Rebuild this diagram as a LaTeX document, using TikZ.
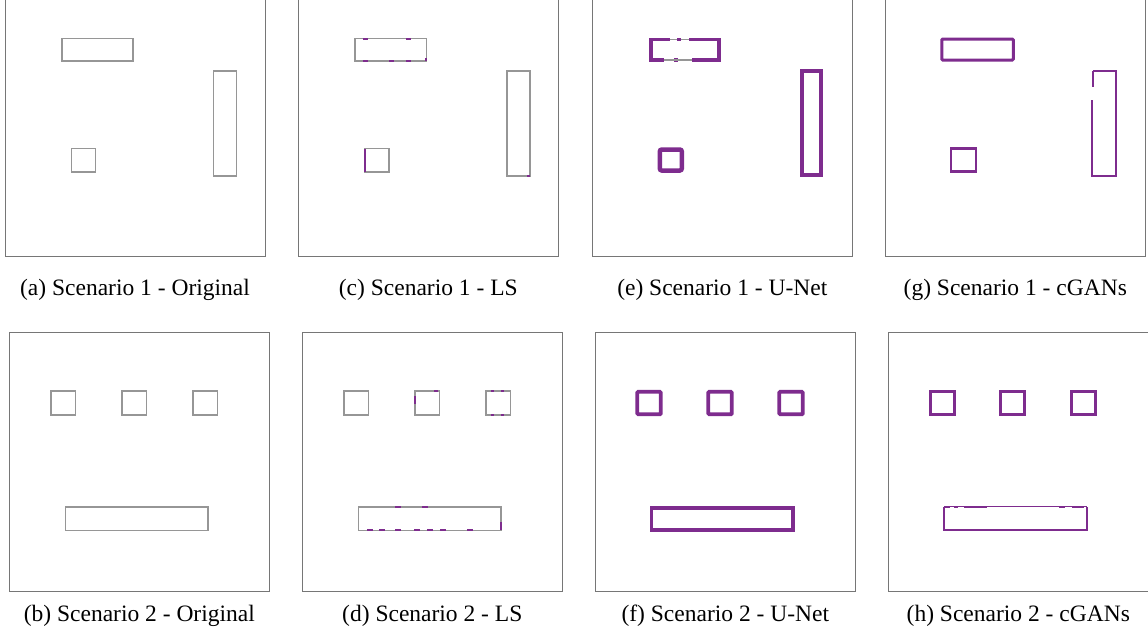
\documentclass[tikz,border=0pt]{standalone}
\usepackage{fontspec}
\setmainfont{Liberation Serif}
\usepackage{xcolor}
\definecolor{frm}{RGB}{118,118,118}
\definecolor{gry}{RGB}{150,150,150}
\definecolor{pur}{RGB}{126,44,142}
\usetikzlibrary{positioning}
% scenario shapes, relative to the panel's upper left corner
\newcommand{\SceneOne}[1]{%
  \draw[#1] (56.7,38.5) rectangle (128,61);
  \draw[#1] (208.5,71) rectangle (231.5,176);
  \draw[#1] (66.5,148.5) rectangle (90.5,172);}
\newcommand{\SceneTwo}[1]{%
  \foreach \sx in {41.5,112.5,183.5} \draw[#1] (\sx,58.5) rectangle ++(24.5,24);
  \draw[#1] (56,174.5) rectangle (198.5,198);}

\begin{document}
\begin{tikzpicture}[x=1pt, y=-1pt,
   every node/.style={font=\fontsize{23.5}{28}\selectfont},
   panel/.style={draw=frm, line width=1pt},
   orig/.style={draw=gry, line width=1.6pt},
   unet/.style={draw=pur, line width=3.8pt},
   gan/.style={draw=pur, line width=2.2pt},
   speck/.style={draw=pur, line width=2pt},
   gapline/.style={draw=gry, line width=1.4pt},
   subcap/.style={anchor=base}]
  \useasboundingbox (0,0) rectangle (1148,638);
  % row 1: scenario 1
  \begin{scope}[shift={(5,0)}]
    \draw[panel] (0,-3.5) rectangle (260,256.5);
    \SceneOne{orig}
    \node[subcap] (capA) at (130,295) {(a) Scenario 1 - Original};
  \end{scope}
  \begin{scope}[shift={(298.3,0)}]
    \draw[panel] (0,-3.5) rectangle (260,256.5);
    \SceneOne{orig}
    \foreach \px in {66.7,110} \draw[speck] (\px-2.5,38.5) -- (\px+2.5,38.5);
    \foreach \px in {66.7,93.4,110} \draw[speck] (\px-2.5,61) -- (\px+2.5,61);
    \draw[speck] (128,58) -- (128,61);
    \draw[speck] (66.5,148.5) -- (66.5,172);
    \draw[speck] (229,176) -- (231.5,176);
    \node[subcap] (capC) at (130,295) {(c) Scenario 1 - LS};
  \end{scope}
  \begin{scope}[shift={(592.3,0)}]
    \draw[panel] (0,-3.5) rectangle (260,256.5);
    \draw[unet] (58.5,39.5) rectangle (126.5,60);
    \draw[unet] (209.5,71) rectangle (229,175);
    \draw[unet, rounded corners=2pt, line width=4.5pt] (67.5,149.5) rectangle (89.5,170.5);
    \draw[white, line width=4.8pt] (78,39.5) -- (97,39.5) (72,60) -- (82,60) (86,60) -- (100,60);
    \draw[gapline] (78,39.5) -- (97,39.5) (72,60) -- (100,60);
    \draw[unet, line width=3pt] (85,39.5) -- (89,39.5);
    \node[subcap] (capE) at (130,295) {(e) Scenario 1 - U-Net};
  \end{scope}
  \begin{scope}[shift={(885.3,0)}]
    \draw[panel] (0,-3.5) rectangle (260,256.5);
    \draw[gan, line width=3pt, rounded corners=1pt] (56.5,39) rectangle (128,60);
    \draw[gan] (207.5,71) -- (230.5,71) -- (230.5,176) -- (206.5,176) -- (206.5,100);
    \draw[gan] (207.5,71) -- (207.5,87);
    \draw[gan] (66,148.5) rectangle (90.5,171.5);
    \node[subcap] (capG) at (130,295) {(g) Scenario 1 - cGANs};
  \end{scope}
  % row 2: scenario 2
  \begin{scope}[shift={(9.3,332.3)}]
    \draw[panel] (0,0) rectangle (260,259.3);
    \SceneTwo{orig}
    \node[subcap] (capB) at (130,289.4) {(b) Scenario 2 - Original};
  \end{scope}
  \begin{scope}[shift={(302.3,332.3)}]
    \draw[panel] (0,0) rectangle (260,259.3);
    \SceneTwo{orig}
    \draw[speck] (113,64) -- (113,72);
    \draw[speck] (132,58.5) -- (136,58.5);
    \foreach \px in {190,200} \draw[speck] (\px-1.5,58.5) -- (\px+1.5,58.5);
    \foreach \px in {190,200} \draw[speck] (\px-1.5,82.5) -- (\px+1.5,82.5);
    \foreach \px in {96,123} \draw[speck] (\px-3,174.5) -- (\px+3,174.5);
    \foreach \px in {68,80,96,115,128,141,168} \draw[speck] (\px-3,198) -- (\px+3,198);
    \draw[speck] (198.5,190) -- (198.5,198);
    \node[subcap] (capD) at (130,289.4) {(d) Scenario 2 - LS};
  \end{scope}
  \begin{scope}[shift={(595.3,332.3)}]
    \draw[panel] (0,0) rectangle (260,259.3);
    \foreach \sx in {42,113,184} \draw[unet, rounded corners=1pt] (\sx,59.5) rectangle ++(23.5,22.5);
    \draw[unet, line width=3.4pt] (56,175.5) rectangle (197.5,197.5);
    \node[subcap] (capF) at (130,289.4) {(f) Scenario 2 - U-Net};
  \end{scope}
  \begin{scope}[shift={(888.3,332.3)}]
    \draw[panel] (0,0) rectangle (260,259.3);
    \foreach \sx in {42,112,183.5} \draw[gan, line width=2.8pt] (\sx,59) rectangle ++(24,23);
    \draw[gan] (56,174.5) -- (56,197.5) -- (198.5,197.5) -- (198.5,174.5);
    \draw[gan, line width=1.2pt] (56,174.5) -- (198.5,174.5);
    \draw[gan] (56,174.5) -- (62,174.5) (66,174.5) -- (70,174.5) (76,174.5) -- (99,174.5)
               (171,174.5) -- (177,174.5) (184,174.5) -- (196,174.5);
    \node[subcap] (capH) at (130,289.4) {(h) Scenario 2 - cGANs};
  \end{scope}
\end{tikzpicture}
\end{document}
